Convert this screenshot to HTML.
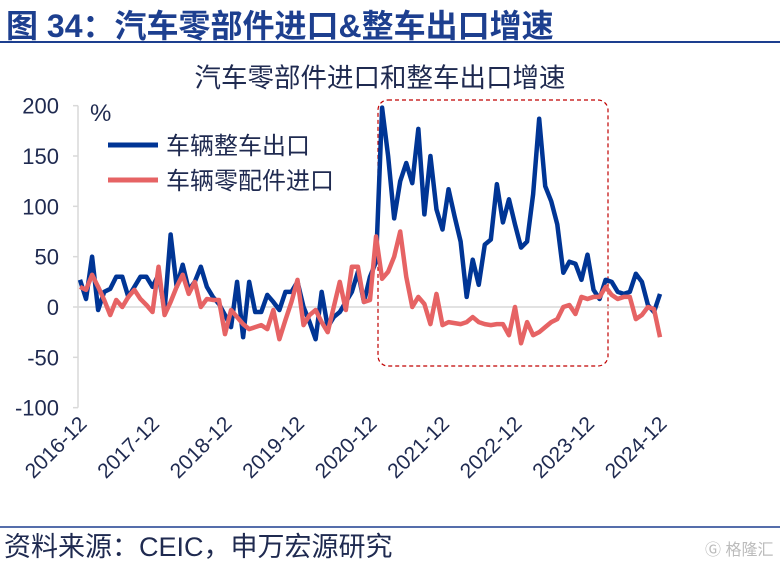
<!DOCTYPE html>
<html><head><meta charset="utf-8">
<style>
body{margin:0;width:780px;height:564px;background:#fff;overflow:hidden;font-family:"Liberation Sans","Noto Sans CJK SC",sans-serif;}
.t{position:absolute;left:6px;top:1px;font-size:32px;font-weight:bold;color:#1d3f8f;white-space:nowrap;}
</style></head><body>
<div class="t">图 34：汽车零部件进口&amp;整车出口增速</div>
<svg width="780" height="564" style="position:absolute;left:0;top:0" id="c" font-family="Liberation Sans,Noto Sans CJK SC,sans-serif">
<line x1="0" y1="42" x2="780" y2="42" stroke="#1d3f8f" stroke-width="2"/>
<text x="380" y="87" font-size="26.5" text-anchor="middle" fill="#1f2a50">汽车零部件进口和整车出口增速</text>
<text x="90" y="121" font-size="24" fill="#1f2a50">%</text>
<line x1="108" y1="145" x2="158" y2="145" stroke="#003595" stroke-width="5"/>
<text x="166" y="154" font-size="24" fill="#1f2a50">车辆整车出口</text>
<line x1="108" y1="180" x2="158" y2="180" stroke="#e66364" stroke-width="5"/>
<text x="166" y="189" font-size="24" fill="#1f2a50">车辆零配件进口</text>
<rect x="378" y="100" width="230" height="266" rx="10" fill="none" stroke="#c00000" stroke-width="1.2" stroke-dasharray="4,3"/>
<g id="g"></g>
<line x1="0" y1="527" x2="780" y2="527" stroke="#1d3f8f" stroke-width="1.5"/>
<text x="4" y="556" font-size="27" fill="#1f2a50">资料来源：CEIC，申万宏源研究</text>
<text x="705" y="555" font-size="16" fill="#bbb">Ⓖ 格隆汇</text>
</svg>
<script>
const yTicks=[200,150,100,50,0,-50,-100];
const xLabels=["2016-12","2017-12","2018-12","2019-12","2020-12","2021-12","2022-12","2023-12","2024-12"];
const vehicleExport=[27,8,50,-3,15,18,30,30,10,20,30,30,20,32,-3,72,20,42,17,25,40,20,10,3,-8,-20,25,-30,25,-5,-5,12,5,-3,15,15,25,0,-15,-32,15,-20,-10,-5,5,15,35,5,30,45,198,150,88,125,143,123,177,92,150,97,77,117,90,65,10,47,22,62,67,122,84,107,82,59,65,112,187,120,105,82,34,45,43,27,52,17,8,27,25,15,13,15,33,25,2,-5,13];
const partsImport=[20,17,32,20,7,-8,7,0,10,17,8,2,-5,40,-8,5,20,32,13,25,0,8,7,7,-27,-3,-10,-17,-22,-20,-18,-22,-3,-32,-13,5,27,-18,-8,-3,-15,-25,0,25,-3,40,40,5,7,70,28,35,50,75,30,0,10,3,-17,13,-18,-15,-16,-17,-15,-10,-15,-17,-18,-17,-17,-28,0,-36,-15,-28,-25,-20,-15,-12,0,2,-7,10,8,10,10,20,12,8,10,10,-12,-8,0,-2,-30];
const X0=80,X1=660,N=96;
const xs=i=>X0+(X1-X0)*i/N;
const ys=v=>307-(v)*(302/300);
const g=document.getElementById('g');const NS='http://www.w3.org/2000/svg';
function mk(t,a){const e=document.createElementNS(NS,t);for(const k in a)e.setAttribute(k,a[k]);g.appendChild(e);return e;}
let ax=mk('line',{x1:78,y1:ys(200),x2:78,y2:ys(-100),stroke:'#d9d9d9','stroke-width':1.5});


yTicks.forEach(v=>{
 const t=mk('text',{x:59,y:ys(v)+8,'font-size':22,'text-anchor':'end',fill:'#1f2a50'});t.textContent=v;
 
 
 const k=mk('line',{x1:73,x2:78,y1:ys(v),y2:ys(v),stroke:'#d9d9d9','stroke-width':1.5});
 
 
});
let zl=mk('line',{x1:78,x2:X1,y1:ys(0),y2:ys(0),stroke:'#d9d9d9','stroke-width':1.5});


xLabels.forEach((l,j)=>{
 const x=xs(j*12);
 const t=mk('text',{x:x+8,y:425,'font-size':21,'text-anchor':'end',fill:'#1f2a50',transform:`rotate(-45 ${x+8} 425)`});t.textContent=l;
 
 
});
function line(d,c,n){const p=mk('polyline',{points:d.map((v,i)=>xs(i)+','+ys(v)).join(' '),fill:'none',stroke:c,'stroke-width':4.5,'stroke-linejoin':'round'});
 
 }
line(vehicleExport,'#003595','series-vehicle-export');
line(partsImport,'#e66364','series-parts-import');
</script>
</body></html>
